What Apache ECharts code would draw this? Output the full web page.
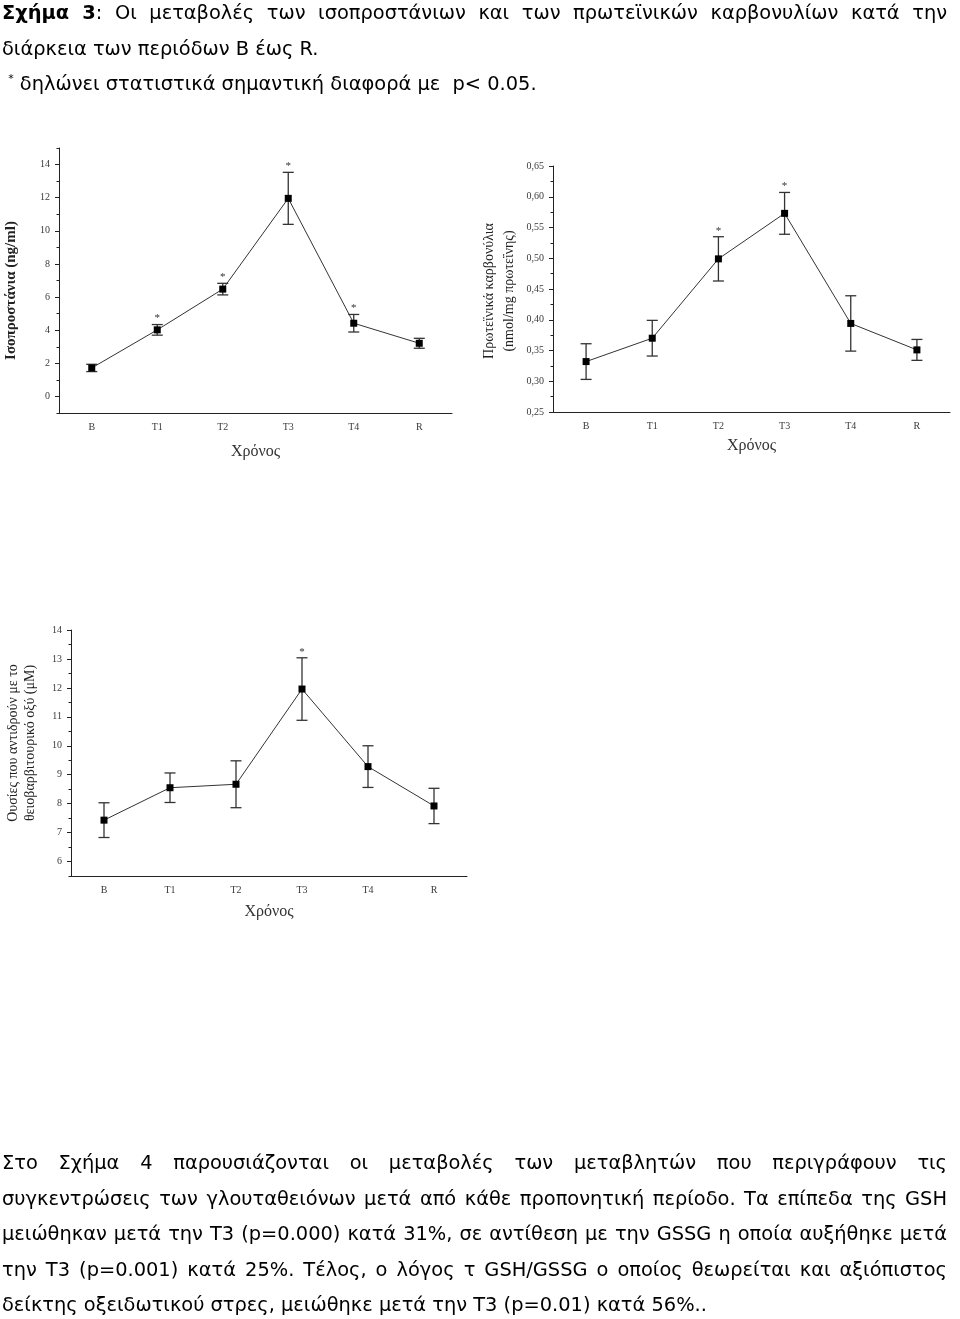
<!DOCTYPE html>
<html>
<head>
<meta charset="utf-8">
<script src="https://cdn.jsdelivr.net/npm/echarts@6/dist/echarts.min.js"></script>
<style>
  html,body{margin:0;padding:0;background:#fff;}
  body{width:960px;height:1319px;overflow:hidden;position:relative;font-family:"DejaVu Sans",Verdana,sans-serif;font-size:19.4px;color:#000;}
  #chart{position:absolute;left:0;top:0;width:960px;height:1319px;}
  .block{position:absolute;left:2px;width:945px;line-height:35.5px;}
  .ln{height:35.5px;overflow:visible;}
  .j{text-align:justify;text-align-last:justify;}
  sup{font-size:11px;vertical-align:8px;line-height:0;}
</style>
</head>
<body>
<div id="chart"></div>
<div class="block" id="caption" style="top:-5px;">
  <div class="ln j"><b>Σχήμα 3</b>: Οι μεταβολές των ισοπροστάνιων και των πρωτεϊνικών καρβονυλίων κατά την</div>
  <div class="ln">διάρκεια των περιόδων Β έως R.</div>
  <div class="ln">&nbsp;<sup>*</sup> δηλώνει στατιστικά σημαντική διαφορά με &nbsp;p&lt; 0.05.</div>
</div>
<div class="block" id="para" style="top:1145px;">
  <div class="ln j">Στο Σχήμα 4 παρουσιάζονται οι μεταβολές των μεταβλητών που περιγράφουν τις</div>
  <div class="ln j">συγκεντρώσεις των γλουταθειόνων μετά από κάθε προπονητική περίοδο. Τα επίπεδα της GSH</div>
  <div class="ln j">μειώθηκαν μετά την T3 (p=0.000) κατά 31%, σε αντίθεση με την GSSG η οποία αυξήθηκε μετά</div>
  <div class="ln j">την T3 (p=0.001) κατά 25%. Τέλος, ο λόγος τ GSH/GSSG ο οποίος θεωρείται και αξιόπιστος</div>
  <div class="ln">δείκτης οξειδωτικού στρες, μειώθηκε μετά την T3 (p=0.01) κατά 56%..</div>
</div>
<script>
// ---------- data ----------
const categories = ['B', 'T1', 'T2', 'T3', 'T4', 'R'];

const isoMean = [1.72, 4.02, 6.48, 11.96, 4.42, 3.21];
const isoErr  = [0.22, 0.32, 0.35, 1.57, 0.53, 0.30];
const isoSig  = [0, 1, 1, 1, 1, 0];
const isoTicks = [0, 2, 4, 6, 8, 10, 12, 14];
const isoMinorTicks = [-1, 1, 3, 5, 7, 9, 11, 13, 15];

const carbMean = [0.332, 0.370, 0.499, 0.573, 0.394, 0.351];
const carbErr  = [0.029, 0.029, 0.036, 0.034, 0.045, 0.017];
const carbSig  = [0, 0, 1, 1, 0, 0];
const carbTicks = [0.25, 0.30, 0.35, 0.40, 0.45, 0.50, 0.55, 0.60, 0.65];
const carbMinorTicks = [0.275, 0.325, 0.375, 0.425, 0.475, 0.525, 0.575, 0.625];

const tbarsMean = [7.43, 8.55, 8.67, 11.96, 9.28, 7.92];
const tbarsErr  = [0.60, 0.51, 0.81, 1.08, 0.72, 0.61];
const tbarsSig  = [0, 0, 0, 1, 0, 0];
const tbarsTicks = [6, 7, 8, 9, 10, 11, 12, 13, 14];
const tbarsMinorTicks = [5.5, 6.5, 7.5, 8.5, 9.5, 10.5, 11.5, 12.5, 13.5];

const isoYName = 'Ισοπροστάνια (ng/ml)';
const carbYName = 'Πρωτεϊνικά καρβονύλια\n(nmol/mg πρωτεΐνης)';
const tbarsYName = 'Ουσίες που αντιδρούν με το\nθειοβαρβιτουρικό οξύ (μΜ)';
const xName = 'Χρόνος';

// ---------- style ----------
const SERIF = '"Liberation Serif","Times New Roman",serif';
const AXIS_COLOR = '#222';
const LABEL_COLOR = '#3a3a3a';

const panels = [
  {grid: {left: 59, top: 148, width: 393, height: 265}, min: -1, max: 15,
   mean: isoMean, err: isoErr, sig: isoSig, ticks: isoTicks, minor: isoMinorTicks,
   yName: isoYName, yNameGap: 39, yNameStyle: {fontSize: 15, fontWeight: 'bold', lineHeight: 18, padding: [0, 20, 0, 0]},
   xNameGap: 31, fmt: v => String(v)},
  {grid: {left: 553, top: 166, width: 397, height: 246}, min: 0.25, max: 0.65,
   mean: carbMean, err: carbErr, sig: carbSig, ticks: carbTicks, minor: carbMinorTicks,
   yName: carbYName, yNameGap: 34, yNameStyle: {fontSize: 14, lineHeight: 20, padding: [0, 4, 0, 0]},
   xNameGap: 26, fmt: v => v.toFixed(2).replace('.', ',')},
  {grid: {left: 71, top: 630, width: 396, height: 246}, min: 5.5, max: 14,
   mean: tbarsMean, err: tbarsErr, sig: tbarsSig, ticks: tbarsTicks, minor: tbarsMinorTicks,
   yName: tbarsYName, yNameGap: 32, yNameStyle: {fontSize: 14, lineHeight: 17, padding: [0, 0, 0, 20]},
   xNameGap: 28, fmt: v => String(v)}
];

const grid = [], xAxis = [], yAxis = [], series = [];
panels.forEach((p, i) => {
  grid.push(Object.assign({containLabel: false}, p.grid));
  // main category axis
  xAxis.push({
    type: 'category', gridIndex: i, data: categories, boundaryGap: true, position: 'bottom',
    axisLine: {onZero: false, lineStyle: {color: AXIS_COLOR, width: 1}},
    axisTick: {alignWithLabel: true, length: 4, lineStyle: {color: AXIS_COLOR}},
    axisLabel: {fontFamily: SERIF, fontSize: 10, color: LABEL_COLOR, margin: 9},
    name: xName, nameLocation: 'middle', nameGap: p.xNameGap,
    nameTextStyle: {fontFamily: SERIF, fontSize: 16, color: '#333'}
  });
  // minor category ticks (between categories)
  xAxis.push({
    type: 'category', gridIndex: i, data: categories, boundaryGap: true, position: 'bottom',
    axisLine: {show: false, onZero: false},
    axisTick: {alignWithLabel: false, length: 2.5, lineStyle: {color: AXIS_COLOR}},
    axisLabel: {show: false}
  });
  yAxis.push({
    type: 'value', gridIndex: i, min: p.min, max: p.max, position: 'left',
    axisLine: {show: true, onZero: false, lineStyle: {color: AXIS_COLOR, width: 1}},
    axisTick: {show: true, length: 4, customValues: p.ticks, lineStyle: {color: AXIS_COLOR}},
    axisLabel: {customValues: p.ticks, formatter: p.fmt, fontFamily: SERIF, fontSize: 10, color: LABEL_COLOR, margin: 9},
    splitLine: {show: false},
    name: p.yName, nameLocation: 'middle', nameGap: p.yNameGap, nameRotate: 90,
    nameTextStyle: Object.assign({fontFamily: SERIF, color: '#222'}, p.yNameStyle)
  });
  yAxis.push({
    type: 'value', gridIndex: i, min: p.min, max: p.max, position: 'left',
    axisLine: {show: false, onZero: false},
    axisTick: {show: true, length: 2.5, customValues: p.minor, lineStyle: {color: AXIS_COLOR}},
    axisLabel: {show: false},
    splitLine: {show: false}
  });

  const data = categories.map((c, k) => [k, p.mean[k], p.err[k], p.sig[k]]);
  series.push({
    type: 'custom', xAxisIndex: 2 * i, yAxisIndex: 2 * i, clip: false, z: 2,
    data: data,
    encode: {x: 0, y: 1},
    renderItem: function (params, api) {
      const x = api.value(0), m = api.value(1), e = api.value(2), s = api.value(3);
      const top = api.coord([x, m + e]);
      const bot = api.coord([x, m - e]);
      const hw = 5.5;
      const st = {stroke: '#333', lineWidth: 1.3};
      const children = [
        {type: 'line', shape: {x1: top[0], y1: top[1], x2: bot[0], y2: bot[1]}, style: st},
        {type: 'line', shape: {x1: top[0] - hw, y1: top[1], x2: top[0] + hw, y2: top[1]}, style: st},
        {type: 'line', shape: {x1: bot[0] - hw, y1: bot[1], x2: bot[0] + hw, y2: bot[1]}, style: st}
      ];
      if (s) {
        children.push({type: 'text', x: top[0], y: top[1] - 6,
          style: {text: '*', fontFamily: SERIF, fontSize: 11, fill: '#333', align: 'center', verticalAlign: 'middle'}});
      }
      return {type: 'group', children: children};
    }
  });
  series.push({
    type: 'line', xAxisIndex: 2 * i, yAxisIndex: 2 * i, z: 3,
    data: p.mean,
    symbol: 'rect', symbolSize: 7, showAllSymbol: true,
    itemStyle: {color: '#000'},
    lineStyle: {color: '#333', width: 1},
    animation: false
  });
});

const chart = echarts.init(document.getElementById('chart'), null, {renderer: 'canvas'});
chart.setOption({
  animation: false,
  backgroundColor: 'transparent',
  grid: grid, xAxis: xAxis, yAxis: yAxis, series: series
});
</script>
</body>
</html>
